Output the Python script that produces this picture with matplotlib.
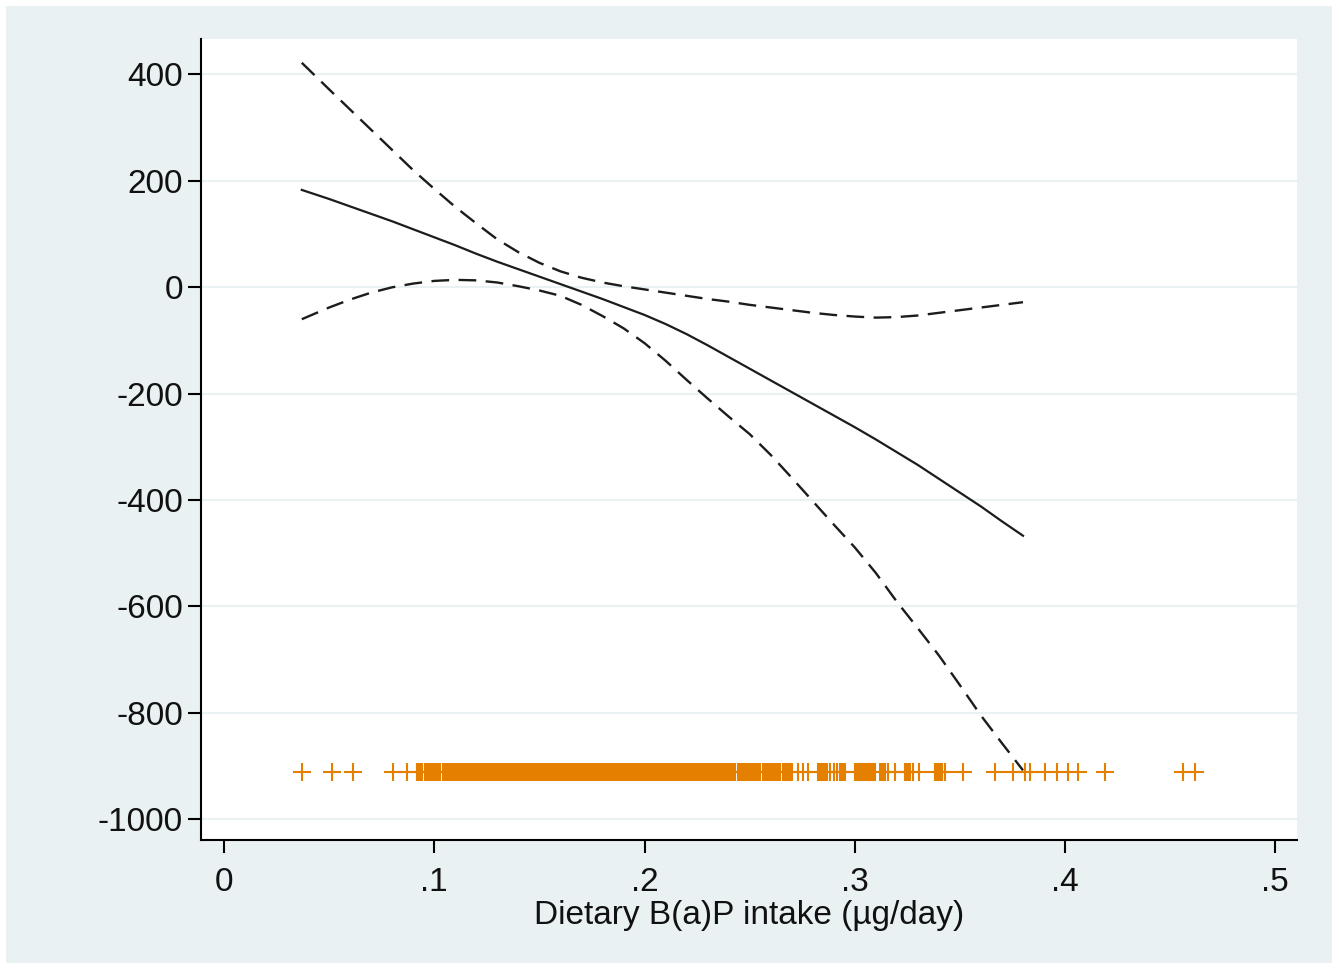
import matplotlib
matplotlib.use("Agg")
import matplotlib.pyplot as plt
from matplotlib.patches import Rectangle

# fitted curve and 95% band
x_fit = [0.037, 0.05, 0.06, 0.07, 0.08, 0.09, 0.10, 0.11, 0.12, 0.13,
         0.14, 0.15, 0.16, 0.17, 0.18, 0.19, 0.20, 0.21, 0.22, 0.23,
         0.24, 0.25, 0.26, 0.27, 0.28, 0.29, 0.30, 0.31, 0.32, 0.33,
         0.34, 0.35, 0.36, 0.37, 0.38]
y_fit = [183, 166, 152, 138, 124, 109, 94, 79, 63, 48,
         34, 20, 6, -8, -22, -37, -52, -69, -88, -109,
         -131, -153, -175, -197, -219, -241, -263, -286, -310, -334,
         -360, -386, -412, -440, -467]
y_upper = [422, 372, 334, 296, 258, 220, 185, 151, 120, 90,
           66, 46, 30, 18, 9, 2, -4, -10, -16, -22,
           -27, -33, -38, -43, -48, -52, -55, -57, -56, -53,
           -48, -43, -38, -33, -28]
y_lower = [-60, -38, -23, -10, 0, 7, 12, 14, 13, 9,
           2, -6, -16, -33, -54, -77, -105, -138, -174, -209,
           -243, -276, -315, -358, -402, -446, -489, -537, -591, -641,
           -692, -748, -805, -857, -908]

# rug of observed intakes: single crosses and dense runs (lo, hi)
rug_single = [0.0370, 0.0512, 0.0615, 0.0805, 0.0869, 0.2731, 0.2754, 0.2778,
              0.2883, 0.2899, 0.2915, 0.3160, 0.3192, 0.3279, 0.3303, 0.3430,
              0.3516, 0.3668, 0.3754, 0.3810, 0.3834, 0.3906, 0.3963, 0.4015,
              0.4063, 0.4191, 0.4562, 0.4619]
rug_blocks = [(0.0918, 0.0942), (0.0956, 0.1028), (0.1042, 0.1185),
              (0.1194, 0.2431), (0.2445, 0.2550), (0.2564, 0.2645),
              (0.2659, 0.2701), (0.2826, 0.2869), (0.2931, 0.2954),
              (0.3002, 0.3050), (0.3059, 0.3097), (0.3121, 0.3145),
              (0.3240, 0.3264), (0.3382, 0.3416)]
RUG_Y = -911

x_ticks = [0, 0.1, 0.2, 0.3, 0.4, 0.5]
x_ticklabels = ["0", ".1", ".2", ".3", ".4", ".5"]
y_ticks = [400, 200, 0, -200, -400, -600, -800, -1000]
x_label = "Dietary B(a)P intake (\u00b5g/day)"

BG = "#E9F1F3"
ORANGE = "#E47F00"
INK = "#1c1c1c"

plt.rcParams["font.family"] = ["Liberation Sans", "DejaVu Sans"]

W, H = 1339, 968
fig = plt.figure(figsize=(W / 100, H / 100), dpi=100)
fig.patch.set_facecolor("white")
fig.patches.append(Rectangle((6 / W, 5 / H), 1 - 13 / W, 1 - 11 / H,
                             transform=fig.transFigure, facecolor=BG,
                             edgecolor="none", zorder=-10))

ax = fig.add_axes([201 / W, 1 - 840 / H, (1297 - 201) / W, (840 - 39) / H])
ax.set_facecolor("white")

ax.plot(x_fit, y_fit, color=INK, lw=1.6, zorder=3)
ax.plot(x_fit, y_upper, color=INK, lw=1.7, linestyle=(0, (7.5, 4)), zorder=3)
ax.plot(x_fit, y_lower, color=INK, lw=1.7, linestyle=(0, (7.5, 4)), zorder=3)

lo = [b[0] for b in rug_blocks]
hi = [b[1] for b in rug_blocks]
ax.hlines([RUG_Y] * len(rug_blocks), lo, hi, color=ORANGE, lw=13,
          capstyle="butt", zorder=2)
ax.plot(rug_single + lo + hi, [RUG_Y] * (len(rug_single) + 2 * len(lo)),
        linestyle="none", marker="+", ms=13, mew=1.5, color=ORANGE, zorder=2)

ax.set_xlim(-0.01094, 0.5103)
ax.set_ylim(-1038.9, 466.7)
ax.set_xticks(x_ticks)
ax.set_xticklabels(x_ticklabels)
ax.set_yticks(y_ticks)
ax.set_yticklabels([str(v) for v in y_ticks])

ax.yaxis.grid(True, color=BG, lw=1.5)
ax.set_axisbelow(True)
for side in ("top", "right"):
    ax.spines[side].set_visible(False)
for side in ("left", "bottom"):
    ax.spines[side].set_color("black")
    ax.spines[side].set_linewidth(1.5)

ax.tick_params(axis="both", direction="out", length=9.5, width=1.5,
               color="black", labelsize=24, labelcolor="#111111")
ax.tick_params(axis="x", pad=10)
ax.tick_params(axis="y", pad=3.5)

ax.set_xlabel(x_label, fontsize=24, color="#111111")
ax.xaxis.set_label_coords(0.5, -0.0747)

fig.savefig("out.png", dpi=100, facecolor=fig.get_facecolor())
